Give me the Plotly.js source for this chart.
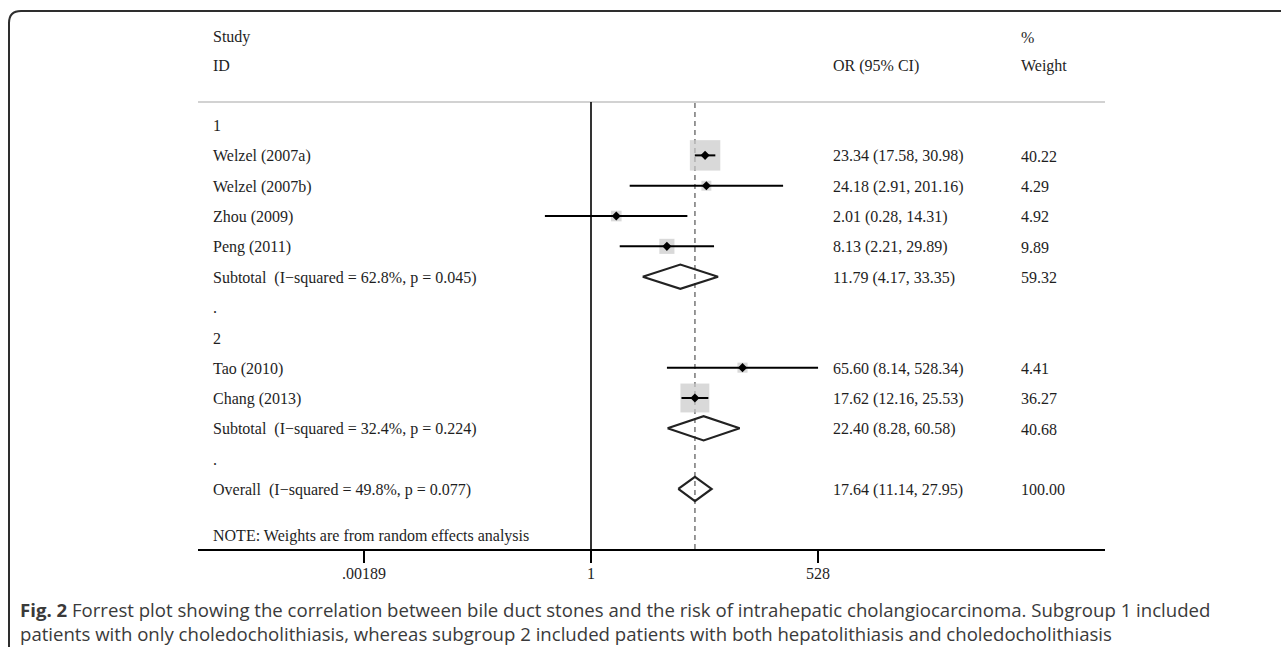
<!DOCTYPE html>
<html>
<head>
<meta charset="utf-8">
<script src="https://cdn.plot.ly/plotly-3.0.1.min.js"></script>
<style>
  html, body { margin: 0; padding: 0; background: #ffffff; }
  #chart { width: 1281px; height: 647px; }
</style>
</head>
<body>
<div id="chart"></div>
<script>
// ---- data ----
const studyLabels = ["Welzel (2007a)", "Welzel (2007b)", "Zhou (2009)", "Peng (2011)", "Tao (2010)", "Chang (2013)"];
const studyRows = [1, 2, 3, 4, 8, 9];
const studyOR = [23.34, 24.18, 2.01, 8.13, 65.60, 17.62];
const studyLower = [17.58, 2.91, 0.28, 2.21, 8.14, 12.16];
const studyUpper = [30.98, 201.16, 14.31, 29.89, 528.34, 25.53];
const studyWeight = [40.22, 4.29, 4.92, 9.89, 4.41, 36.27];

const pooledLabels = ["Subtotal  (I\u2212squared = 62.8%, p = 0.045)", "Subtotal  (I\u2212squared = 32.4%, p = 0.224)", "Overall  (I\u2212squared = 49.8%, p = 0.077)"];
const pooledRows = [5, 10, 12];
const pooledOR = [11.79, 22.40, 17.64];
const pooledLower = [4.17, 8.28, 11.14];
const pooledUpper = [33.35, 60.58, 27.95];
const pooledWeight = [59.32, 40.68, 100.00];

const groupLabels = ["1", ".", "2", "."];
const groupRows = [0, 6, 7, 11];

const nullValue = 1;
const tickValues = [0.00189, 1, 528];
const tickLabels = [".00189", "1", "528"];

const noteText = "NOTE: Weights are from random effects analysis";
const captionLine1 = "<b>Fig. 2</b> Forrest plot showing the correlation between bile duct stones and the risk of intrahepatic cholangiocarcinoma. Subgroup 1 included";
const captionLine2 = "patients with only choledocholithiasis, whereas subgroup 2 included patients with both hepatolithiasis and choledocholithiasis";

// ---- layout geometry (pixels) ----
const W = 1281, H = 647;
const plotL = 198, plotR = 1105, plotT = 102, plotB = 549;
const px2x = p => (p - plotL) / (plotR - plotL);
const py2y = p => (plotB - p) / (plotB - plotT);
const fmt = v => v.toFixed(2);

const serif = "Liberation Serif, Times New Roman, serif";
const textColor = "#1e1e1e";

// ---- traces ----
const ciX = [], ciY = [];
studyOR.forEach((v, i) => {
  ciX.push(studyLower[i], studyUpper[i], null);
  ciY.push(studyRows[i], studyRows[i], null);
});

const diaX = [], diaY = [];
const h = 0.4;
pooledOR.forEach((v, i) => {
  const r = pooledRows[i];
  diaX.push(pooledLower[i], v, pooledUpper[i], v, pooledLower[i], null);
  diaY.push(r, r - h, r, r + h, r, null);
});

const traces = [
  { // weight boxes
    type: "scatter", mode: "markers", x: studyOR, y: studyRows,
    marker: { symbol: "square", color: "#c9c9c9", size: studyWeight.map(w => 4.8 * Math.sqrt(w)), line: { width: 0 } },
    hoverinfo: "skip"
  },
  { // CI lines
    type: "scatter", mode: "lines", x: ciX, y: ciY,
    line: { color: "#000000", width: 2 }, hoverinfo: "skip"
  },
  { // point estimates
    type: "scatter", mode: "markers", x: studyOR, y: studyRows,
    marker: { symbol: "diamond", color: "#000000", size: 7 }, hoverinfo: "skip"
  },
  { // pooled diamonds
    type: "scatter", mode: "lines", x: diaX, y: diaY, fill: "none",
    line: { color: "#222222", width: 2.2 }, hoverinfo: "skip"
  }
];

// ---- annotations ----
const ann = [];
function txt(x, y, text, yref, extra) {
  ann.push(Object.assign({
    xref: "paper", yref: yref, x: x, y: y, text: text, showarrow: false,
    xanchor: "left", yanchor: "middle", align: "left",
    font: { family: serif, size: 16, color: textColor }
  }, extra || {}));
}
const colStudy = px2x(211), colOR = px2x(831), colW = px2x(1019);
// headers
txt(colStudy, py2y(37), "Study", "paper");
txt(colStudy, py2y(66), "ID", "paper");
txt(colOR, py2y(66), "OR (95% CI)", "paper");
txt(colW, py2y(37), "%", "paper");
txt(colW, py2y(66), "Weight", "paper");
// group labels
groupLabels.forEach((g, i) => txt(colStudy, groupRows[i] + 0.03, g, "y"));
// studies
studyLabels.forEach((s, i) => {
  const r = studyRows[i] + 0.03;
  txt(colStudy, r, s, "y");
  txt(colOR, r, fmt(studyOR[i]) + " (" + fmt(studyLower[i]) + ", " + fmt(studyUpper[i]) + ")", "y");
  txt(colW, r, fmt(studyWeight[i]), "y");
});
// pooled
pooledLabels.forEach((s, i) => {
  const r = pooledRows[i] + 0.03;
  txt(colStudy, r, s, "y");
  txt(colOR, r, fmt(pooledOR[i]) + " (" + fmt(pooledLower[i]) + ", " + fmt(pooledUpper[i]) + ")", "y");
  txt(colW, r, fmt(pooledWeight[i]), "y");
});
txt(colStudy, 13.55, noteText, "y");
// caption (one two-line text block)
const capFont = { family: "Open Sans, Noto Sans, sans-serif", size: 18.6, color: "#3a3a3a" };
txt(px2x(18), py2y(621), captionLine1 + "<br>" + captionLine2, "paper", { font: capFont });

// ---- shapes ----
const fx = px2x(9), ftop = py2y(11), rx = 12 / (plotR - plotL), ry = 12 / (plotB - plotT);
const shapes = [
  { type: "line", xref: "paper", yref: "paper", x0: 0, x1: 1, y0: 1, y1: 1, line: { color: "#d2d2d2", width: 2 }, layer: "below" },
  { type: "line", xref: "x", yref: "paper", x0: nullValue, x1: nullValue, y0: 0, y1: 1, line: { color: "#000000", width: 1.6 }, layer: "below" },
  { type: "line", xref: "x", yref: "paper", x0: pooledOR[2], x1: pooledOR[2], y0: 0, y1: 1, line: { color: "#555555", width: 1.2, dash: "5px,4px" }, layer: "below" },
  { type: "path", xref: "paper", yref: "paper",
    path: "M " + fx + "," + py2y(660) + " L " + fx + "," + (ftop - ry) + " Q " + fx + "," + ftop + " " + (fx + rx) + "," + ftop + " L " + px2x(1300) + "," + ftop,
    line: { color: "#2e2e2e", width: 2 } }
];

const layout = {
  width: W, height: H,
  margin: { l: plotL, r: W - plotR, t: plotT, b: H - plotB, pad: 0 },
  paper_bgcolor: "#ffffff", plot_bgcolor: "#ffffff",
  showlegend: false,
  xaxis: {
    type: "log",
    range: [(plotL - 591) / 83.39, (plotR - 591) / 83.39],
    tickvals: tickValues, ticktext: tickLabels,
    ticks: "outside", ticklen: 12, tickwidth: 1.6, tickcolor: "#000000",
    ticklabelstandoff: -3,
    showline: true, linewidth: 2, linecolor: "#000000",
    showgrid: false, zeroline: false,
    tickfont: { family: serif, size: 16, color: textColor },
    fixedrange: true
  },
  yaxis: {
    range: [13.98, -0.76], visible: false, showgrid: false, zeroline: false, fixedrange: true
  },
  shapes: shapes,
  annotations: ann
};

Plotly.newPlot("chart", traces, layout, { staticPlot: true, displayModeBar: false });
</script>
</body>
</html>
